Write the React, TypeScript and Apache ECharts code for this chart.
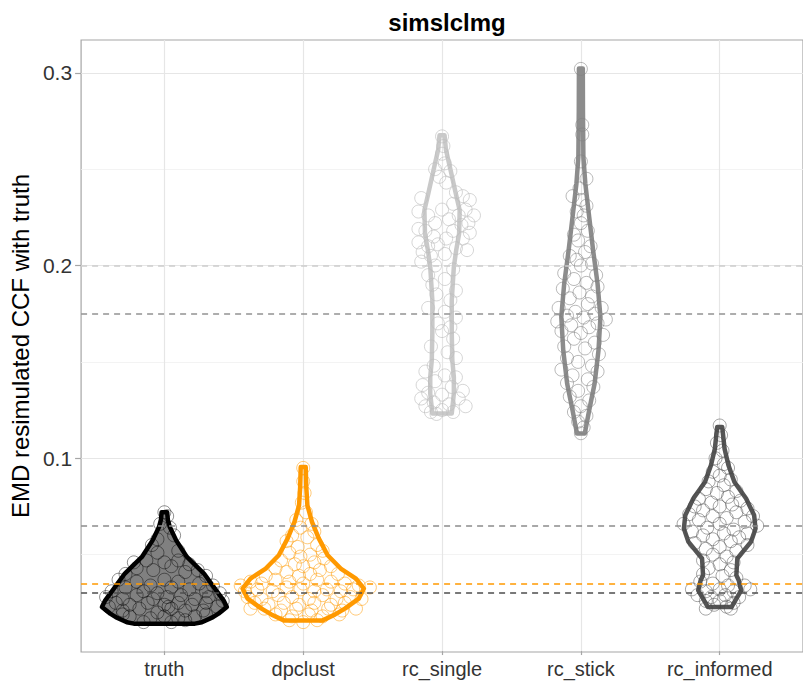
import React, { useEffect, useRef } from "react";
import * as echarts from "echarts";

const categories = ["truth", "dpclust", "rc_single", "rc_stick", "rc_informed"];
const yTickValues = [0.1, 0.2, 0.3];
const yMinorValues = [0.05, 0.15, 0.25];
const medians = [0.03, 0.035, 0.2, 0.175, 0.065];

// violin outlines: [value, half-width in category units]
const truthViolin = [[0.0142, 0.22], [0.0149, 0.27], [0.0176, 0.35], [0.0194, 0.39], [0.0228, 0.45], [0.0263, 0.426], [0.0315, 0.373], [0.0402, 0.285], [0.0488, 0.162], [0.0574, 0.085], [0.0643, 0.039], [0.068, 0.025], [0.072, 0.02]];
const dpclustViolin = [[0.0159, 0.14], [0.019, 0.23], [0.022, 0.3], [0.0272, 0.4], [0.0324, 0.437], [0.0376, 0.38], [0.0428, 0.27], [0.0497, 0.176], [0.0583, 0.113], [0.067, 0.063], [0.0756, 0.03], [0.085, 0.022], [0.0955, 0.018]];
const rcSingleViolin = [[0.1232, 0.07], [0.1336, 0.085], [0.1422, 0.085], [0.1508, 0.074], [0.1648, 0.07], [0.182, 0.07], [0.1993, 0.085], [0.208, 0.102], [0.2166, 0.123], [0.2287, 0.127], [0.2374, 0.099], [0.2512, 0.056], [0.26, 0.028], [0.2676, 0.018]];
const rcStickViolin = [[0.1128, 0.028], [0.1249, 0.06], [0.1388, 0.099], [0.156, 0.127], [0.1733, 0.141], [0.1907, 0.12], [0.208, 0.088], [0.2252, 0.06], [0.2426, 0.032], [0.2564, 0.018], [0.28, 0.015], [0.3022, 0.014]];
const rcInformedViolin = [[0.0228, 0.085], [0.0263, 0.113], [0.0315, 0.155], [0.0367, 0.137], [0.0393, 0.12], [0.048, 0.127], [0.0566, 0.225], [0.0635, 0.258], [0.0704, 0.248], [0.0791, 0.19], [0.0877, 0.106], [0.0964, 0.063], [0.105, 0.035], [0.1162, 0.018]];

// points: [offset from category centre, value]
const truthPoints = [[0.0, 0.072], [0.02, 0.07], [-0.03, 0.066], [0.04, 0.064], [-0.05, 0.058], [0.07, 0.06], [-0.09, 0.055], [0.1, 0.052], [-0.05, 0.051],
  [-0.22, 0.046], [-0.13, 0.047], [0.0, 0.046], [0.1, 0.047], [0.18, 0.045], [-0.2, 0.043], [0.05, 0.044], [0.24, 0.042], [-0.08, 0.042], [0.15, 0.041], [-0.28, 0.04], [0.3, 0.039],
  [-0.33, 0.037], [-0.2, 0.036], [0.0, 0.037], [0.1, 0.036], [0.25, 0.035], [0.35, 0.034], [-0.1, 0.034], [-0.28, 0.033], [0.05, 0.033], [0.18, 0.032], [-0.38, 0.031], [0.4, 0.03], [-0.15, 0.031], [0.3, 0.031], [-0.05, 0.03],
  [-0.42, 0.028], [-0.3, 0.027], [-0.2, 0.029], [-0.08, 0.027], [0.02, 0.028], [0.12, 0.029], [0.22, 0.027], [0.32, 0.028], [0.42, 0.026], [-0.35, 0.025], [-0.25, 0.024], [-0.12, 0.025], [0.0, 0.024], [0.1, 0.025], [0.2, 0.024], [0.3, 0.025], [-0.4, 0.023], [0.38, 0.023], [-0.18, 0.022], [0.05, 0.022], [0.15, 0.021], [-0.3, 0.021], [0.28, 0.021], [-0.05, 0.02], [0.03, 0.023],
  [-0.25, 0.018], [-0.1, 0.017], [0.0, 0.018], [0.1, 0.017], [0.22, 0.018], [-0.15, 0.015], [0.05, 0.015], [0.15, 0.016], [-0.3, 0.019], [0.3, 0.019]];
const dpclustPoints = [[0.0, 0.095], [0.0, 0.088], [0.01, 0.082], [-0.01, 0.077], [0.02, 0.072], [-0.05, 0.068], [0.06, 0.066], [-0.02, 0.064], [0.08, 0.062], [-0.08, 0.06], [0.03, 0.059], [-0.12, 0.057], [0.1, 0.055], [-0.04, 0.054], [0.14, 0.052], [-0.1, 0.051], [0.05, 0.05], [-0.02, 0.049], [0.15, 0.048], [-0.16, 0.047], [0.08, 0.046], [-0.06, 0.045], [0.2, 0.044], [-0.2, 0.043], [0.0, 0.044], [0.12, 0.042], [-0.12, 0.041], [0.25, 0.04], [-0.27, 0.039], [0.05, 0.04], [-0.03, 0.039],
  [-0.45, 0.034], [-0.38, 0.036], [-0.3, 0.035], [-0.2, 0.037], [-0.1, 0.036], [0.0, 0.035], [0.1, 0.037], [0.2, 0.036], [0.3, 0.035], [0.4, 0.034], [0.48, 0.033], [-0.42, 0.031], [-0.33, 0.032], [-0.22, 0.031], [-0.12, 0.033], [-0.02, 0.032], [0.08, 0.031], [0.17, 0.032], [0.27, 0.031], [0.36, 0.032],
  [-0.4, 0.028], [-0.3, 0.027], [-0.18, 0.029], [-0.08, 0.028], [0.04, 0.027], [0.14, 0.029], [0.24, 0.027], [0.34, 0.028], [0.42, 0.027], [-0.35, 0.025], [-0.25, 0.024], [-0.14, 0.025], [-0.03, 0.024], [0.08, 0.025], [0.2, 0.024], [0.3, 0.025], [-0.28, 0.022], [-0.16, 0.021], [-0.05, 0.022], [0.06, 0.021], [0.18, 0.022], [0.28, 0.021], [0.38, 0.022], [-0.38, 0.022],
  [-0.2, 0.019], [-0.08, 0.018], [0.04, 0.019], [0.14, 0.018], [0.26, 0.019], [-0.1, 0.016], [0.0, 0.015], [0.1, 0.016]];
const rcSinglePoints = [[0.0, 0.267], [0.01, 0.262], [0.0, 0.258], [0.02, 0.253], [-0.05, 0.25], [0.06, 0.249], [-0.02, 0.246], [0.03, 0.243],
  [0.1, 0.238], [0.15, 0.236], [0.2, 0.234], [-0.15, 0.235], [0.08, 0.232], [0.17, 0.229], [0.23, 0.226], [0.12, 0.226], [-0.17, 0.228], [-0.1, 0.226], [0.0, 0.229], [0.05, 0.224], [0.19, 0.222], [-0.05, 0.222], [0.14, 0.221],
  [-0.17, 0.219], [-0.12, 0.218], [0.08, 0.218], [0.2, 0.217], [-0.06, 0.215], [0.03, 0.214], [0.15, 0.214], [-0.17, 0.212], [-0.1, 0.21], [-0.03, 0.211], [0.1, 0.209], [0.18, 0.208], [-0.14, 0.207], [0.02, 0.206], [-0.08, 0.205],
  [-0.15, 0.202], [-0.05, 0.2], [0.08, 0.198], [-0.1, 0.195], [0.02, 0.193], [-0.07, 0.19],
  [0.1, 0.187], [-0.04, 0.185], [0.06, 0.182], [-0.1, 0.178], [0.02, 0.176], [0.1, 0.173], [-0.03, 0.17], [0.06, 0.168], [0.0, 0.166], [0.08, 0.162], [-0.08, 0.158], [0.04, 0.155], [0.1, 0.152], [-0.06, 0.148],
  [-0.12, 0.145], [0.02, 0.143], [0.1, 0.142], [-0.05, 0.14], [-0.14, 0.138], [0.07, 0.137], [0.15, 0.135], [-0.1, 0.134], [0.0, 0.133], [-0.15, 0.131], [0.12, 0.131], [-0.06, 0.129], [0.05, 0.128], [-0.12, 0.127], [0.17, 0.127], [0.0, 0.125], [-0.08, 0.124], [0.08, 0.124], [-0.04, 0.123]];
const rcStickPoints = [[0.0, 0.302], [0.01, 0.273], [0.01, 0.268], [0.0, 0.254], [0.04, 0.245], [-0.01, 0.24], [-0.06, 0.236], [0.0, 0.234], [0.04, 0.231], [-0.03, 0.228], [0.02, 0.226], [0.0, 0.222], [0.05, 0.218], [-0.05, 0.216], [-0.02, 0.213], [0.07, 0.21], [0.03, 0.207], [-0.08, 0.205], [-0.03, 0.203], [0.08, 0.201], [0.0, 0.2], [-0.12, 0.196], [0.11, 0.195], [-0.05, 0.193], [0.04, 0.191], [-0.13, 0.188], [0.12, 0.189], [-0.01, 0.186], [0.08, 0.184], [-0.08, 0.183], [0.05, 0.18], [-0.16, 0.178], [0.15, 0.178], [-0.04, 0.176], [0.1, 0.175], [-0.1, 0.174], [0.02, 0.173], [0.18, 0.172], [-0.17, 0.171], [0.12, 0.17], [-0.07, 0.169], [0.06, 0.168], [-0.14, 0.166], [0.0, 0.165], [0.16, 0.164], [-0.05, 0.162], [0.1, 0.16], [-0.12, 0.158], [0.03, 0.157], [0.13, 0.154], [-0.1, 0.152], [-0.02, 0.15], [0.08, 0.148], [-0.14, 0.146], [0.12, 0.145], [-0.06, 0.143], [0.05, 0.141], [-0.1, 0.139], [0.09, 0.137], [-0.02, 0.135], [-0.08, 0.132], [0.06, 0.13], [0.0, 0.127], [-0.05, 0.124], [0.04, 0.122], [-0.02, 0.119], [0.02, 0.116], [0.0, 0.113]];
const rcInformedPoints = [[0.0, 0.117], [0.01, 0.112], [-0.02, 0.108], [0.02, 0.104], [-0.03, 0.1], [0.03, 0.097], [0.06, 0.095], [-0.05, 0.093], [0.0, 0.091], [0.08, 0.089], [-0.08, 0.088], [0.03, 0.086], [-0.1, 0.084], [0.12, 0.083], [-0.02, 0.082], [0.06, 0.08], [-0.15, 0.079], [0.15, 0.078], [-0.06, 0.077], [0.09, 0.076], [-0.18, 0.075], [0.2, 0.074], [0.0, 0.075], [-0.12, 0.073], [0.12, 0.072], [-0.22, 0.071], [0.24, 0.07], [-0.05, 0.07], [0.05, 0.069], [-0.15, 0.068], [0.18, 0.067], [-0.26, 0.066], [0.27, 0.065], [0.0, 0.066], [-0.09, 0.064], [0.1, 0.063], [-0.2, 0.062], [0.2, 0.061], [0.03, 0.061], [-0.12, 0.06], [0.14, 0.059], [-0.05, 0.058], [0.08, 0.057], [-0.18, 0.056], [0.2, 0.055], [0.0, 0.054], [-0.1, 0.053], [0.12, 0.052], [-0.05, 0.05], [0.05, 0.049], [-0.12, 0.047], [0.1, 0.046], [0.0, 0.045], [-0.08, 0.043], [0.08, 0.042], [-0.12, 0.04], [0.02, 0.039], [0.12, 0.038],
  [-0.14, 0.036], [-0.05, 0.035], [0.06, 0.034], [0.18, 0.034], [-0.2, 0.032], [-0.1, 0.031], [0.0, 0.032], [0.1, 0.031], [0.22, 0.032], [-0.16, 0.029], [-0.06, 0.028], [0.04, 0.029], [0.14, 0.028], [-0.1, 0.026], [0.0, 0.026], [0.1, 0.025], [-0.04, 0.024], [0.05, 0.023], [-0.1, 0.022], [0.08, 0.022]];

const violins = [truthViolin, dpclustViolin, rcSingleViolin, rcStickViolin, rcInformedViolin];
const pointSets = [truthPoints, dpclustPoints, rcSinglePoints, rcStickPoints, rcInformedPoints];

const outlineColors = ["#000000", "#FF9900", "#C9C9C9", "#8C8C8C", "#555555"];
const fillColors = ["#808080", "none", "none", "none", "none"];
const pointColors = ["rgba(0,0,0,0.55)", "rgba(255,153,0,0.65)", "rgba(190,190,190,0.8)", "rgba(128,128,128,0.7)", "rgba(70,70,70,0.6)"];
const medianColors = ["#4D4D4D", "#FF9900", "#CDCDCD", "#939393", "#8C8C8C"];

const FONT = "'Liberation Sans', Arial, Helvetica, sans-serif";

export default function App() {
  const ref = useRef<HTMLDivElement>(null);
  useEffect(() => {
    if (!ref.current) return;
    const chart = echarts.init(ref.current, null, { renderer: "svg" });
    const series: any[] = [];
    series.push({
      type: "scatter",
      data: [],
      silent: true,
      z: 0,
      markLine: {
        silent: true,
        z: 0,
        precision: 4,
        symbol: ["none", "none"],
        label: { show: false },
        animation: false,
        data: [
          ...yTickValues.map((v) => ({ yAxis: v, lineStyle: { color: "#E6E6E6", width: 1.2, type: "solid" } })),
          ...yMinorValues.map((v) => ({ yAxis: v, lineStyle: { color: "#F0F0F0", width: 0.8, type: "solid" } })),
          ...categories.map((_, i) => ({ xAxis: i + 1, lineStyle: { color: "#E6E6E6", width: 1.2, type: "solid" } })),
        ],
      },
    });
    series.push({
      type: "custom",
      coordinateSystem: "cartesian2d",
      z: 1,
      silent: true,
      data: categories.map((_, i) => [i + 1, medians[i]]),
      encode: { x: 0, y: 1 },
      renderItem: (params: any, api: any) => {
        const i = params.dataIndex;
        const v = violins[i];
        const c = i + 1;
        const pts: number[][] = [];
        for (let k = 0; k < v.length; k++) pts.push(api.coord([c + v[k][1], v[k][0]]));
        for (let k = v.length - 1; k >= 0; k--) pts.push(api.coord([c - v[k][1], v[k][0]]));
        return {
          type: "polygon",
          shape: { points: pts },
          style: { fill: fillColors[i], stroke: outlineColors[i], lineWidth: 4.5, lineJoin: "round" },
        };
      },
    });
    pointSets.forEach((pts, i) => {
      series.push({
        type: "scatter",
        z: 2,
        silent: true,
        symbol: "circle",
        symbolSize: 13,
        itemStyle: { color: "rgba(0,0,0,0)", borderColor: pointColors[i], borderWidth: 1 },
        data: pts.map((p) => [i + 1 + p[0], p[1]]),
      });
    });
    series.push({
      type: "scatter",
      data: [],
      silent: true,
      z: 3,
      markLine: {
        silent: true,
        z: 3,
        precision: 4,
        symbol: ["none", "none"],
        label: { show: false },
        animation: false,
        data: medians.map((v, i) => ({ yAxis: v, lineStyle: { color: medianColors[i], width: 1.5, type: [6, 5] } })),
      },
    });

    chart.setOption({
      animation: false,
      grid: { left: 78, top: 40, right: -13, bottom: 30, show: true, borderColor: "#A6A6A6", borderWidth: 1.2, backgroundColor: "#fff" },
      xAxis: {
        type: "value",
        min: 0.4,
        max: 5.6,
        splitLine: { show: false },
        axisLine: { show: false },
        axisTick: { show: true, customValues: [1, 2, 3, 4, 5], length: 4, lineStyle: { color: "#A6A6A6", width: 1.2 } },
        axisLabel: {
          customValues: [1, 2, 3, 4, 5],
          formatter: (v: number) => categories[Math.round(v) - 1] ?? "",
          color: "#333333",
          fontSize: 20,
          fontFamily: FONT,
          margin: 7,
        },
      },
      yAxis: {
        type: "value",
        min: -0.0005,
        max: 0.317,
        splitLine: { show: false },
        axisLine: { show: false },
        axisTick: { show: true, customValues: yTickValues, length: 6, lineStyle: { color: "#A6A6A6", width: 1.2 } },
        axisLabel: {
          customValues: yTickValues,
          formatter: (v: number) => v.toFixed(1),
          color: "#333333",
          fontSize: 21,
          fontFamily: FONT,
          margin: 9,
        },
        name: "EMD resimulated CCF with truth",
        nameLocation: "middle",
        nameGap: 32,
        nameTextStyle: { color: "#000", fontSize: 24, fontFamily: FONT },
      },
      graphic: [
        {
          type: "text",
          x: 447,
          y: 22,
          style: { text: "simslclmg", font: `bold 24px ${FONT}`, fill: "#000", textAlign: "center", textVerticalAlign: "middle" },
        },
      ],
      series,
    });
    return () => chart.dispose();
  }, []);
  return <div ref={ref} style={{ position: "fixed", left: 0, top: 0, width: 803, height: 682, background: "#fff" }} />;
}
